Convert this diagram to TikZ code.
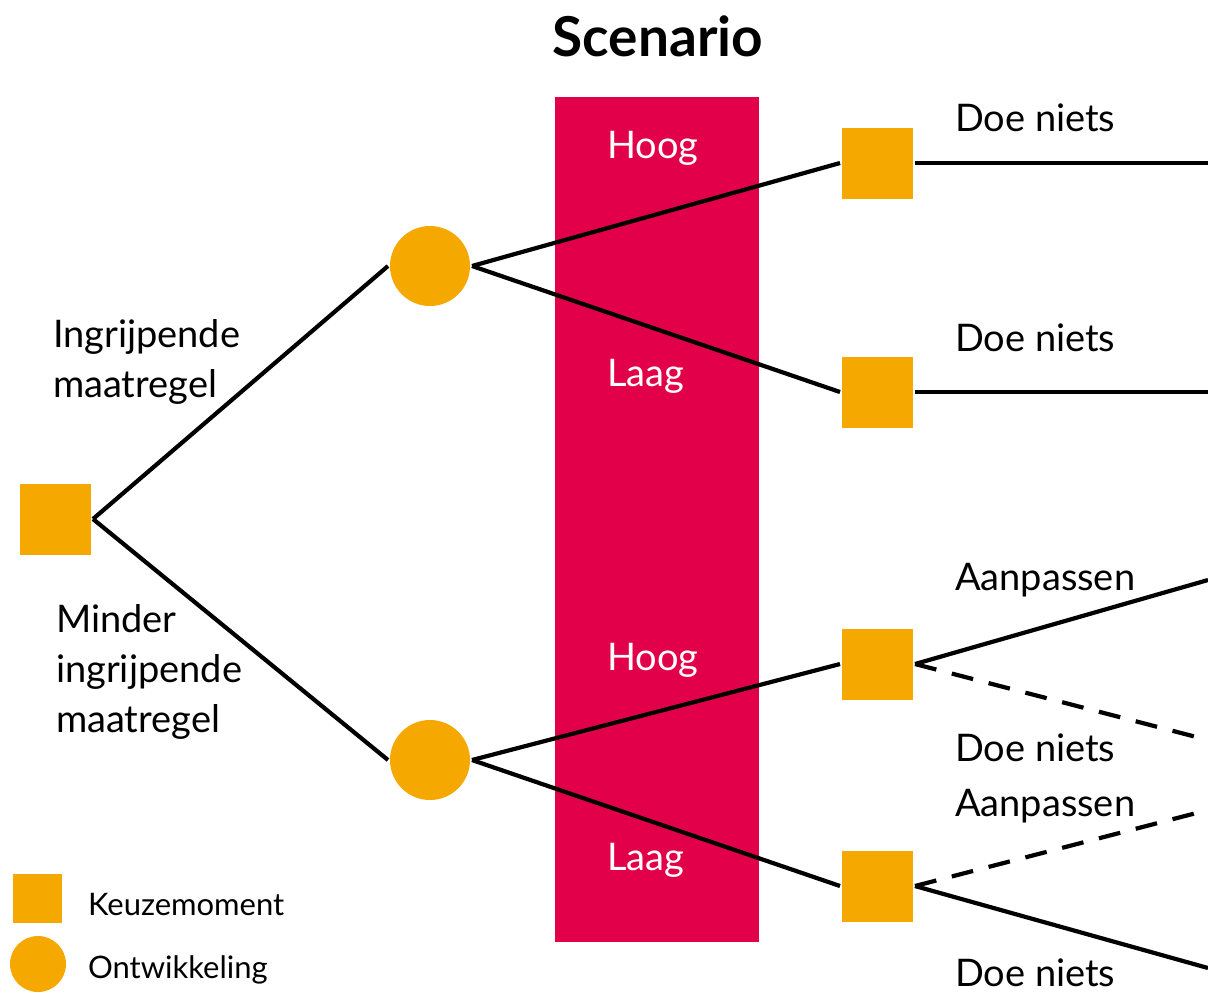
\documentclass[tikz,border=0pt]{standalone}
\usepackage{fontspec}
\setmainfont{Lato}
\usetikzlibrary{positioning}
\definecolor{corange}{HTML}{F5A800}
\definecolor{ccrimson}{HTML}{E3004B}
\tikzset{
  every picture/.style={line width=2pt},
  keuze/.style={rectangle, fill=corange, minimum size=35.5pt, inner sep=0pt},
  ontw/.style={circle, fill=corange, minimum size=40pt, inner sep=0pt},
  branch/.style={draw=black, line width=2.1pt},
  alt/.style={branch, dash pattern=on 11pt off 8pt},
  label/.style={font=\fontsize{19}{25}\selectfont, anchor=west, align=left, inner sep=0pt},
  scen/.style={label, text=white},
  legend/.style={font=\fontsize{15.5}{18}\selectfont, anchor=west, inner sep=0pt},
}

\begin{document}
\begin{tikzpicture}[x=0.5pt, y=-0.5pt]
  \useasboundingbox (0,0) rectangle (1208,992);
  % scenario band
  \fill[ccrimson] (555,97) rectangle (759,942);
  \node[font=\fontsize{27.5}{32}\selectfont\bfseries] (title) at (658,36) {Scenario};
  \node[scen] (hoog1) at (605,148) {Hoog};
  \node[scen] (laag1) at (605,376) {Laag};
  \node[scen] (hoog2) at (605,660) {Hoog};
  \node[scen] (laag2) at (605,860) {Laag};
  % decision tree
  \node[keuze] (root) at (55.5,519) {};
  \node[ontw] (top) at (430,266) {};
  \node[ontw] (bot) at (430,760) {};
  \node[keuze] (k1) at (877.5,163) {};
  \node[keuze] (k2) at (877.5,392) {};
  \node[keuze] (k3) at (877.5,664) {};
  \node[keuze] (k4) at (877.5,886) {};
  \coordinate (e1) at (1208,163);
  \coordinate (e2) at (1208,392);
  \coordinate (e3a) at (1208,580);
  \coordinate (e3b) at (1208,740);
  \coordinate (e4a) at (1208,810);
  \coordinate (e4b) at (1208,968);
  \draw[branch] (root.east) -- (top.west);
  \draw[branch] (root.east) -- (bot.west);
  \draw[branch] (top.east) -- (k1.west);
  \draw[branch] (top.east) -- (k2.west);
  \draw[branch] (bot.east) -- (k3.west);
  \draw[branch] (bot.east) -- (k4.west);
  \draw[branch] (k1.east) -- (e1);
  \draw[branch] (k2.east) -- (e2);
  \draw[branch] (k3.east) -- (e3a);
  \draw[alt] (k3.east) -- (e3b);
  \draw[alt] (k4.east) -- (e4a);
  \draw[branch] (k4.east) -- (e4b);
  % labels
  \node[label] (ingr) at (51,362) {Ingrijpende\\maatregel};
  \node[label] (minder) at (54,672) {Minder\\ingrijpende\\maatregel};
  \node[label] (d1) at (953,118) {Doe niets};
  \node[label] (d2) at (953,338) {Doe niets};
  \node[label] (a3) at (953,580) {Aanpassen};
  \node[label] (d3) at (953,748) {Doe niets};
  \node[label] (a4) at (953,806) {Aanpassen};
  \node[label] (d4) at (953,973) {Doe niets};
  % legend
  \node[keuze, minimum size=24.5pt] (lk) at (37.5,898) {};
  \node[ontw, minimum size=28pt] (lo) at (38,964) {};
  \node[legend] (lkt) at (86,904) {Keuzemoment};
  \node[legend] (lot) at (86,970) {Ontwikkeling};
\end{tikzpicture}
\end{document}
